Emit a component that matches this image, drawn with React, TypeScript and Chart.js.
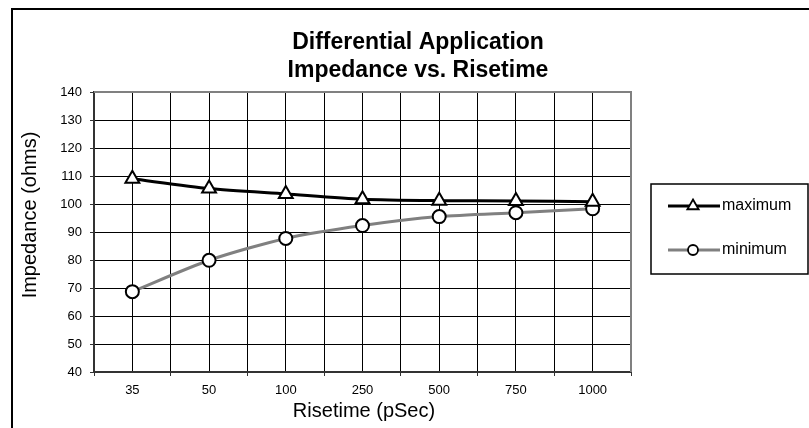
import React, { useEffect, useRef } from "react";
import { Chart, registerables } from "chart.js";

Chart.register(...registerables);

const categories: string[] = ["35", "50", "100", "250", "500", "750", "1000"];
const maximumValues: number[] = [109, 105.5, 103.6, 101.7, 101.2, 101.1, 100.8];
const minimumValues: number[] = [68.7, 79.9, 87.7, 92.3, 95.5, 96.9, 98.3];
const titleLines: string[] = ["Differential Application", "Impedance vs. Risetime"];
const xTitle = "Risetime (pSec)";
const yTitle = "Impedance (ohms)";
const seriesNames: string[] = ["maximum", "minimum"];

const FONT = "'Liberation Sans', Arial, Helvetica, sans-serif";

const decorPlugin = {
  id: "decor",
  beforeDatasetsDraw(chart: any) {
    const { ctx, chartArea } = chart;
    ctx.save();
    ctx.strokeStyle = "#808080";
    ctx.lineWidth = 2;
    ctx.beginPath();
    ctx.moveTo(chartArea.left, chartArea.top);
    ctx.lineTo(chartArea.right, chartArea.top);
    ctx.lineTo(chartArea.right, chartArea.bottom);
    ctx.stroke();
    ctx.restore();
  },
  afterDraw(chart: any) {
    const { ctx } = chart;
    ctx.save();
    // outer frame
    ctx.strokeStyle = "#000";
    ctx.lineWidth = 2;
    ctx.beginPath();
    ctx.moveTo(12, 440);
    ctx.lineTo(12, 9);
    ctx.lineTo(820, 9);
    ctx.stroke();

    // title
    ctx.fillStyle = "#000";
    ctx.font = `bold 23px ${FONT}`;
    ctx.textAlign = "center";
    ctx.textBaseline = "alphabetic";
    ctx.fillText(titleLines[0], 418, 49);
    ctx.fillText(titleLines[1], 418, 77);

    // axis titles
    ctx.font = `20px ${FONT}`;
    ctx.textBaseline = "middle";
    ctx.fillText(xTitle, 364, 411);
    ctx.save();
    ctx.translate(30, 215);
    ctx.rotate(-Math.PI / 2);
    ctx.fillText(yTitle, 0, 0);
    ctx.restore();

    // legend
    ctx.strokeStyle = "#000";
    ctx.lineWidth = 1.5;
    ctx.strokeRect(651, 184, 157, 90);
    const rows = [
      { y: 206, color: "#000", style: "triangle" },
      { y: 250, color: "#808080", style: "circle" },
    ];
    rows.forEach((r, i) => {
      ctx.strokeStyle = r.color;
      ctx.lineWidth = 3;
      ctx.beginPath();
      ctx.moveTo(668, r.y);
      ctx.lineTo(720, r.y);
      ctx.stroke();
      ctx.fillStyle = "#fff";
      ctx.strokeStyle = "#000";
      ctx.lineWidth = 1.8;
      ctx.beginPath();
      if (r.style === "triangle") {
        const rad = 6.5;
        ctx.moveTo(693, r.y - rad);
        ctx.lineTo(693 + rad * 0.866, r.y + rad * 0.5);
        ctx.lineTo(693 - rad * 0.866, r.y + rad * 0.5);
        ctx.closePath();
      } else {
        ctx.arc(693, r.y, 5, 0, Math.PI * 2);
      }
      ctx.fill();
      ctx.stroke();
      ctx.fillStyle = "#000";
      ctx.font = `16px ${FONT}`;
      ctx.textAlign = "left";
      ctx.textBaseline = "middle";
      ctx.fillText(seriesNames[i], 722, r.y);
    });
    ctx.restore();
  },
};

export default function App() {
  const canvasRef = useRef<HTMLCanvasElement | null>(null);

  useEffect(() => {
    if (!canvasRef.current) return;
    const tickFont = { family: FONT, size: 13 };
    const chart = new Chart(canvasRef.current, {
      type: "line",
      data: {
        datasets: [
          {
            label: seriesNames[0],
            data: maximumValues.map((v, i) => ({ x: i, y: v })),
            borderColor: "#000",
            borderWidth: 3,
            pointStyle: "triangle",
            pointRadius: 8,
            pointBackgroundColor: "#fff",
            pointBorderColor: "#000",
            pointBorderWidth: 2,
            tension: 0.25,
          },
          {
            label: seriesNames[1],
            data: minimumValues.map((v, i) => ({ x: i, y: v })),
            borderColor: "#808080",
            borderWidth: 3,
            pointStyle: "circle",
            pointRadius: 6.5,
            pointBackgroundColor: "#fff",
            pointBorderColor: "#000",
            pointBorderWidth: 2,
            tension: 0.25,
          },
        ],
      },
      options: {
        animation: false,
        responsive: false,
        layout: { padding: { left: 0, top: 92, right: 178, bottom: 0 } },
        plugins: {
          legend: { display: false },
          title: { display: false },
          tooltip: { enabled: false },
        },
        scales: {
          x: {
            type: "linear",
            min: -0.5,
            max: 6.5,
            ticks: {
              stepSize: 0.5,
              autoSkip: false,
              maxRotation: 0,
              padding: 7,
              color: "#000",
              font: tickFont,
              callback: (v: any) =>
                Number.isInteger(v) ? categories[v as number] : "",
            },
            grid: {
              color: "#000",
              lineWidth: 1,
              tickLength: 4,
              tickColor: (c: any) =>
                c.tick && Number.isInteger(c.tick.value) ? "rgba(0,0,0,0)" : "#333",
            },
            border: { color: "#333", width: 2 },
            afterFit: (s: any) => {
              s.height = 56;
            },
          },
          y: {
            min: 40,
            max: 140,
            ticks: {
              stepSize: 10,
              padding: 8,
              color: "#000",
              font: tickFont,
            },
            grid: {
              color: "#000",
              lineWidth: 1,
              tickLength: 4,
              tickColor: "#333",
            },
            border: { color: "#333", width: 2 },
            afterFit: (s: any) => {
              s.width = 94;
            },
          },
        },
      } as any,
      plugins: [decorPlugin],
    });
    return () => chart.destroy();
  }, []);

  return (
    <div
      style={{
        position: "fixed",
        left: 0,
        top: 0,
        width: 809,
        height: 428,
        background: "#fff",
      }}
    >
      <canvas ref={canvasRef} width={809} height={428} style={{ display: "block" }} />
    </div>
  );
}
